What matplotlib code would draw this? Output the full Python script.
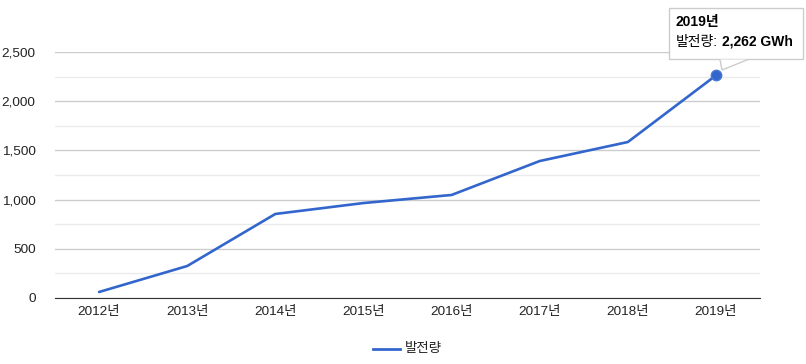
import matplotlib.pyplot as plt
from matplotlib.patches import Polygon, FancyBboxPatch
from matplotlib.ticker import FuncFormatter, MultipleLocator

plt.rcParams['font.family'] = ['Liberation Sans', 'Noto Sans CJK KR']

years = ['2012년', '2013년', '2014년', '2015년', '2016년', '2017년', '2018년', '2019년']
power = [61, 325, 854, 965, 1047, 1392, 1585, 2262]
series_name = '발전량'
unit = 'GWh'

blue = '#3366cc'
x = list(range(len(years)))

fig = plt.figure(figsize=(8.06, 3.64), dpi=100)
ax = fig.add_axes([55 / 806, 1 - 298 / 364, 705 / 806, 246 / 364])

ax.plot(x, power, color=blue, lw=1.9, solid_capstyle='round', zorder=3)
ax.plot(x[-1], power[-1], 'o', ms=7.5, color=blue, mec='#4a78d4', mew=1, zorder=4)

ax.set_xlim(-0.5, len(years) - 0.5)
ax.set_ylim(0, 2500)
ax.yaxis.set_major_locator(MultipleLocator(500))
ax.yaxis.set_minor_locator(MultipleLocator(250))
ax.yaxis.set_major_formatter(FuncFormatter(lambda v, p: f'{int(v):,}'))
ax.set_xticks(x)
ax.set_xticklabels(years)
ax.grid(axis='y', which='major', color='#cccccc', lw=1)
ax.grid(axis='y', which='minor', color='#ebebeb', lw=1)
ax.set_axisbelow(True)
for s in ['top', 'right', 'left']:
    ax.spines[s].set_visible(False)
ax.spines['bottom'].set_color('#333333')
ax.tick_params(axis='both', which='both', length=0, labelsize=9.7, colors='#222222')
ax.tick_params(axis='y', pad=14)
ax.tick_params(axis='x', pad=6)

# legend
fig.add_artist(plt.Line2D([373 / 806, 400 / 806], [1 - 349 / 364] * 2, color=blue, lw=2))
fig.text(405 / 806, 1 - 349 / 364, series_name, fontsize=9.7, color='#222222', va='center')

# tooltip
W, H = 806, 364
box = FancyBboxPatch((669 / W, 1 - 59 / H), 134 / W, 51 / H,
                     boxstyle='square,pad=0', transform=fig.transFigure,
                     fc='white', ec='#cccccc', lw=1, zorder=10)
fig.add_artist(box)
tail = Polygon([(720 / W, 1 - 59.5 / H), (722 / W, 1 - 70 / H), (748 / W, 1 - 59.5 / H)],
               closed=False, transform=fig.transFigure, fc='white', ec='#cccccc', lw=1, zorder=11)
fig.add_artist(tail)
fig.text(676 / W, 1 - 22 / H, years[-1], fontsize=10, weight='bold', color='#000000', va='center', zorder=12)
t = fig.text(676 / W, 1 - 42 / H, series_name + ':', fontsize=10, color='#000000', va='center', zorder=12)
r = fig.canvas.get_renderer()
bb = t.get_window_extent(renderer=r)
fig.text((bb.x1 + 4) / W, 1 - 42 / H, f'{power[-1]:,} {unit}', fontsize=10, weight='bold',
         color='#000000', va='center', zorder=12)

fig.savefig('out.png', dpi=100, facecolor='white')
